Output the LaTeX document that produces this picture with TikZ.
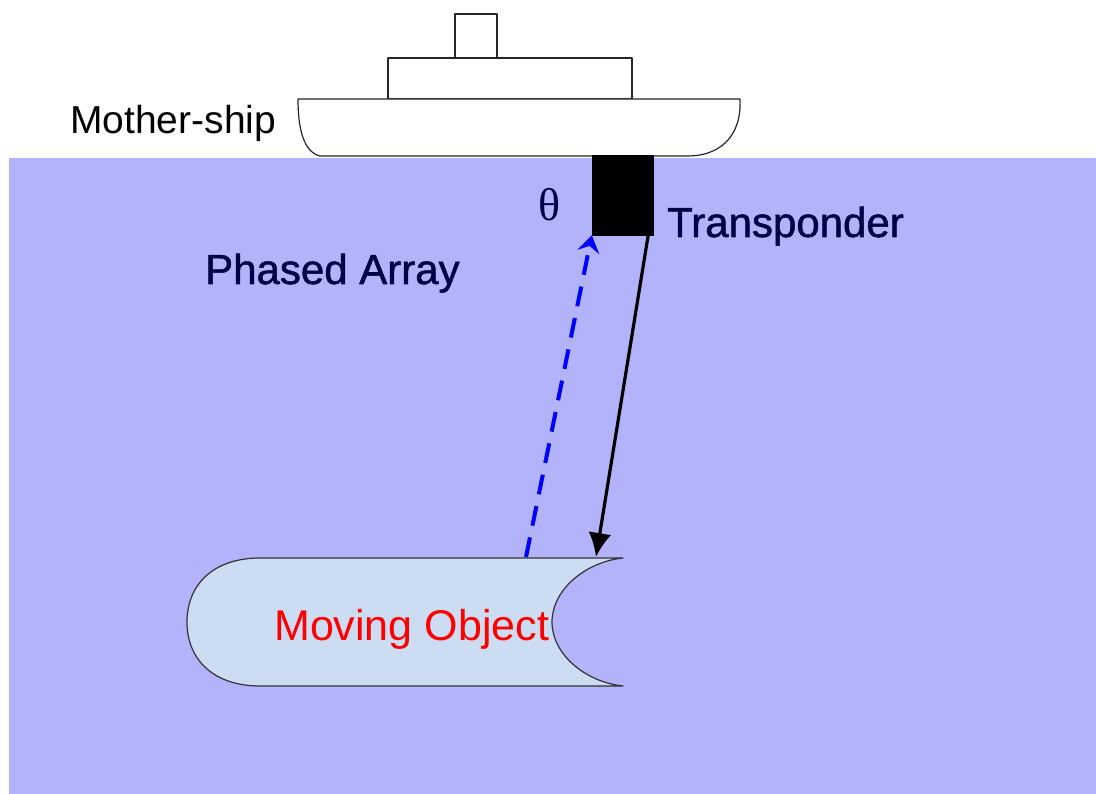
\documentclass[tikz,border=0pt]{standalone}
\usepackage{fontspec}
\setmainfont{Liberation Sans}
\newfontfamily\heavyfont[FakeBold=1.2]{Liberation Sans}
\newfontfamily\thetafont{Liberation Serif}
\usetikzlibrary{arrows.meta}

\definecolor{sea}{RGB}{179,179,252}
\definecolor{hullfill}{RGB}{204,220,242}
\definecolor{navy}{RGB}{0,0,70}

\begin{document}
\begin{tikzpicture}[x=1pt,y=-1pt,line join=round,
  label text/.style={inner sep=0pt,anchor=base west,font=\fontsize{42}{50}\selectfont},
  ship part/.style={draw=black!85,fill=white,line width=1.2pt},
  probe/.style={draw,fill=black,minimum width=61pt,minimum height=80pt,inner sep=0pt},
  reply/.style={-{Latex[length=24pt,width=23pt]},line width=3.2pt,black},
  ping/.style={-{Stealth[length=17pt,width=22pt,inset=6pt]},line width=4pt,blue,
    dash pattern=on 20pt off 12pt}]

  \useasboundingbox (0,0) rectangle (1096,794);
  \fill[sea] (9,158) rectangle (1096,794);

  % mother-ship
  \draw[ship part] (455,14) rectangle (497,58);
  \draw[ship part] (388,58) rectangle (632,99);
  \draw[ship part] (298,99) -- (740,99)
    .. controls (742,138) and (718,156) .. (688,156) -- (320,156)
    .. controls (304,152) and (298,130) .. (298,99) -- cycle;

  \node[probe] (tx) at (622.5,195) {};

  % moving object
  \draw[fill=hullfill,draw=black!80,line width=1.2pt] (260,558) -- (623,558)
    .. controls (585,562) and (552,590) .. (552,622)
    .. controls (552,654) and (585,682) .. (623,686) -- (260,686)
    .. controls (214,686) and (187,660) .. (187,622)
    .. controls (187,584) and (214,558) .. (260,558) -- cycle;
  \coordinate (hit) at (596,557);
  \coordinate (echo) at (526,557);

  \node[label text] (ship) at (70,134) {\fontsize{39}{46}\selectfont Mother-ship};
  \node[label text,text=navy] (array) at (205,284) {\heavyfont Phased Array};
  \node[label text,text=navy] (tlabel) at (667,237) {\heavyfont Transponder};
  \node[label text,text=navy] (angle) at (538,221) {\fontsize{46}{52}\thetafont θ};
  \node[label text,text=red] (obj) at (274,640) {\fontsize{43}{50}\selectfont Moving Object};

  \draw[reply] ([xshift=-5pt]tx.south east) -- (hit);
  \draw[ping] (echo) -- (tx.south west);
\end{tikzpicture}
\end{document}
